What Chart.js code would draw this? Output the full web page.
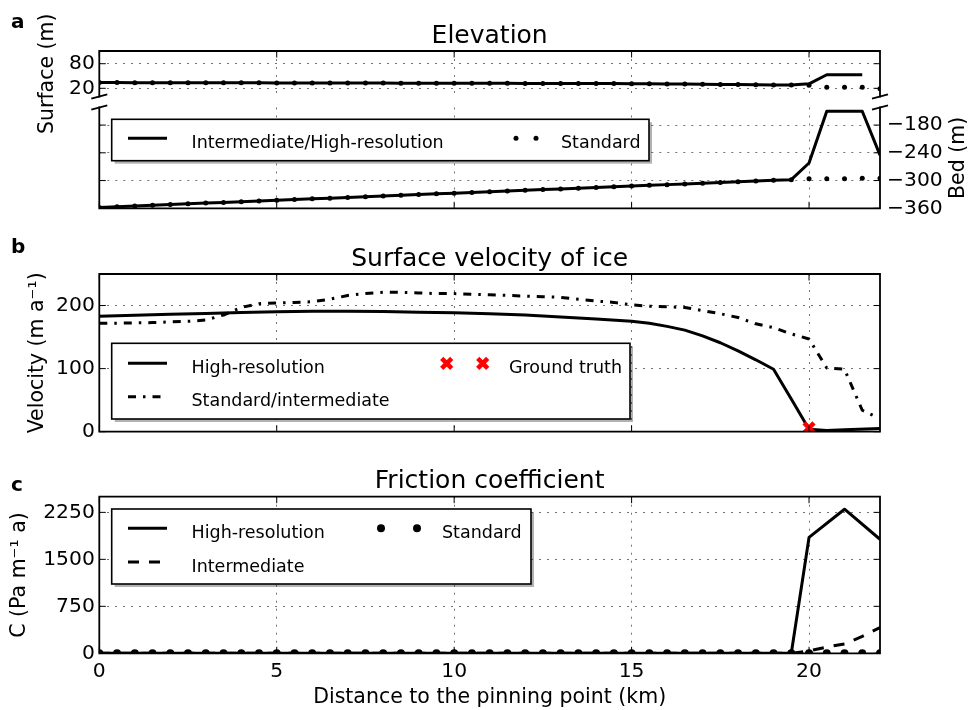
<!DOCTYPE html>
<html>
<head>
<meta charset="utf-8">
<script src="https://cdn.jsdelivr.net/npm/chart.js@4.4.1/dist/chart.umd.min.js"></script>
<style>
html,body{margin:0;padding:0;background:#fff;}
#wrap{position:relative;width:968px;height:710px;overflow:hidden;background:#fff;}
#wrap canvas{position:absolute;left:0;top:0;}
</style>
</head>
<body>
<div id="wrap">
<canvas id="surfChart" width="968" height="710"></canvas>
<canvas id="bedChart" width="968" height="710"></canvas>
<canvas id="velChart" width="968" height="710"></canvas>
<canvas id="fricChart" width="968" height="710"></canvas>
</div>
<script>
// ---- data ----
const xTicks = [0,5,10,15,20];
const surfTicks = [20,80];
const bedTicks = [-360,-300,-240,-180];
const velTicks = [0,100,200];
const fricTicks = [0,750,1500,2250];

// standard grid, 0.5 km spacing
const kmStd = [0,0.5,1,1.5,2,2.5,3,3.5,4,4.5,5,5.5,6,6.5,7,7.5,8,8.5,9,9.5,10,10.5,11,11.5,12,12.5,13,13.5,14,14.5,15,15.5,16,16.5,17,17.5,18,18.5,19,19.5,20,20.5,21,21.5,22];

// a: elevation
const surfStd = [34,33.9,33.8,33.8,33.7,33.6,33.5,33.4,33.3,33.3,33.2,33.1,33,32.9,32.8,32.8,32.7,32.6,32.5,32.4,32.3,32.3,32.2,32.1,32,31.9,31.8,31.7,31.6,31.5,31.3,31,30.6,30.2,29.8,29.4,29,28.6,28.3,28,27.5,22.5,22.5,22.5,19];
const kmSurfHi = [0,0.5,1,1.5,2,2.5,3,3.5,4,4.5,5,5.5,6,6.5,7,7.5,8,8.5,9,9.5,10,10.5,11,11.5,12,12.5,13,13.5,14,14.5,15,15.5,16,16.5,17,17.5,18,18.5,19,19.5,20,20.5,21,21.5];
const surfHi = [34,33.9,33.8,33.8,33.7,33.6,33.5,33.4,33.3,33.3,33.2,33.1,33,32.9,32.8,32.8,32.7,32.6,32.5,32.4,32.3,32.3,32.2,32.1,32,31.9,31.8,31.7,31.6,31.5,31.3,31,30.6,30.2,29.8,29.4,29,28.6,28.3,28,31,53,53,53];
const bedStd = [-358,-356.5,-355,-353.4,-351.8,-350.3,-348.8,-347.2,-345.7,-344.2,-342.6,-341.1,-339.5,-338,-336.5,-334.9,-333.4,-331.8,-330.3,-328.8,-327.2,-325.7,-324.2,-322.6,-321.1,-319.5,-318,-316.5,-314.9,-313.4,-311.8,-310.3,-308.8,-307.2,-305.7,-304.2,-302.6,-301.1,-299.5,-298,-296,-296,-296,-295,-295];
const bedHi = [-358,-356.5,-355,-353.4,-351.8,-350.3,-348.8,-347.2,-345.7,-344.2,-342.6,-341.1,-339.5,-338,-336.5,-334.9,-333.4,-331.8,-330.3,-328.8,-327.2,-325.7,-324.2,-322.6,-321.1,-319.5,-318,-316.5,-314.9,-313.4,-311.8,-310.3,-308.8,-307.2,-305.7,-304.2,-302.6,-301.1,-299.5,-298,-262,-150,-150,-150,-245];

// b: surface velocity
const kmVelHi = [0,1,2,3,4,5,6,7,8,9,10,11,12,13,14,15,15.5,16,16.5,17,17.5,18,18.5,19,19.5,20,20.5,21,22];
const velHi = [183,184.5,186,187.5,189,190,191,191,190.5,189.5,188.5,187,185,182,178.5,175,172,167,161,152,141,128,114,99,52,4,2,3,5];
const kmVelStd = [0,0.5,1,1.5,2,2.5,3,3.5,4,4.5,5,5.5,6,6.5,7,7.5,8,8.5,9,9.5,10,10.5,11,11.5,12,12.5,13,13.5,14,14.5,15,15.5,16,16.5,17,17.5,18,18.5,19,19.5,20,20.5,21,21.5,21.8];
const velStd = [172,172,172.5,173,174,175,177,185,197,203,204,205,206,210,216,219,221,221,220,219,219,218,217,216,215,214,213,210,207,205,201,199,198,197,192,187,181,171,165,155,147,101,99,34,26];
const kmTruth = [20];
const velTruth = [6];

// c: friction coefficient
const kmFricHi = [0,5,10,15,19.5,20,21,22];
const fricHi = [0,0,0,0,0,1850,2300,1820];
const kmFricInt = [0,5,10,15,19.5,20,20.5,21,21.5,22];
const fricInt = [0,0,0,0,0,40,100,150,270,410];
const fricStd = [0,0,0,0,0,0,0,0,0,0,0,0,0,0,0,0,0,0,0,0,0,0,0,0,0,0,0,0,0,0,0,0,0,0,0,0,0,0,0,0,0,0,0,0,0];

// ---- style ----
const FONT = "'DejaVu Sans', 'Bitstream Vera Sans', sans-serif";
Chart.defaults.font.family = FONT;
Chart.defaults.color = '#000';
const GRID = 'rgba(0,0,0,0.55)';
const LEFT_W = 99.3, RIGHT_W = 88, TICK = 6.5, SPINE = 1.8;
const DASHDOT = [8,7,2.5,7], DASHED = [11,10];

const pts = (xs, ys) => xs.map((x,i)=>({x, y:ys[i]}));
const fmt = v => v < 0 ? '\u2212' + Math.abs(v) : String(v);
const fixTicks = list => s => { s.ticks = list.map(v=>({value:v})); };

function xScale(bottom){
  return {
    type:'linear', min:0, max:22, position:'bottom',
    afterBuildTicks: fixTicks(xTicks),
    afterFit: s => { s.height = bottom ? 710 - 653.3 : 0; },
    ticks:{display:bottom, autoSkip:false, maxRotation:0, padding:6.4, font:{size:20.3}, color:'#000', callback:fmt},
    grid:{color:GRID, lineWidth:1, drawTicks:false},
    border:{display:false, dash:[2,6]},
    title:{display:bottom, text:'Distance to the pinning point (km)', font:{size:20.5}, color:'#000', padding:{top:0,bottom:0}}
  };
}
function yScale(min, max, ticks, showLabels, titleText, titlePad, pos, width){
  return {
    type:'linear', min, max, position:pos || 'left',
    afterBuildTicks: fixTicks(ticks),
    afterFit: s => { s.width = width || LEFT_W; },
    ticks:{display:showLabels, autoSkip:false, padding:pos==='right'?7:4.5, font:{size:20.3}, color:'#000', callback:fmt},
    grid:{display:showLabels, color:GRID, lineWidth:1, drawTicks:false},
    border:{display:false, dash:[2,6]},
    title:{display:!!titleText, text:titleText || '', font:{size:20.5}, color:'#000', padding:{top:titlePad||0, bottom:0}}
  };
}

function drawLegend(ctx, lg){
  const [x1,y1,x2,y2] = lg.box;
  ctx.save();
  ctx.fillStyle = 'rgba(0,0,0,0.3)';
  ctx.fillRect(x1+3, y1+3, x2-x1, y2-y1);
  ctx.fillStyle = '#fff';
  ctx.fillRect(x1, y1, x2-x1, y2-y1);
  ctx.strokeStyle = '#000'; ctx.lineWidth = 1.6;
  ctx.strokeRect(x1, y1, x2-x1, y2-y1);
  lg.items.forEach(it=>{
    ctx.save();
    if(it.kind==='line'){
      ctx.strokeStyle='#000'; ctx.lineWidth=3; ctx.lineCap='butt';
      ctx.setLineDash(it.dash || []);
      ctx.beginPath(); ctx.moveTo(128, it.y); ctx.lineTo(167, it.y); ctx.stroke();
    } else if(it.kind==='dots'){
      ctx.fillStyle='#000';
      it.xs.forEach(x=>{ ctx.beginPath(); ctx.arc(x, it.y, it.r, 0, Math.PI*2); ctx.fill(); });
    } else if(it.kind==='cross'){
      ctx.strokeStyle='#ff0000'; ctx.lineWidth=4.5; ctx.lineCap='butt';
      it.xs.forEach(x=>{ const d=5; ctx.beginPath();
        ctx.moveTo(x-d,it.y-d); ctx.lineTo(x+d,it.y+d); ctx.moveTo(x-d,it.y+d); ctx.lineTo(x+d,it.y-d); ctx.stroke(); });
    }
    ctx.restore();
  });
  ctx.fillStyle='#000'; ctx.font = '17.5px ' + FONT; ctx.textAlign='left'; ctx.textBaseline='alphabetic';
  lg.texts.forEach(t=>ctx.fillText(t[0], t[1], t[2]));
  ctx.restore();
}

function overlay(cfg){
  return {
    id:'overlay',
    afterDraw(chart){
      const ctx = chart.ctx, a = chart.chartArea;
      const xs = chart.scales.x, ys = chart.scales[cfg.yId];
      ctx.save();
      // inward ticks
      ctx.strokeStyle='#000'; ctx.lineWidth=1; ctx.beginPath();
      xTicks.forEach(v=>{
        const px = xs.getPixelForValue(v);
        if(cfg.spines.bottom){ ctx.moveTo(px,a.bottom); ctx.lineTo(px,a.bottom-TICK); }
        if(cfg.spines.top){ ctx.moveTo(px,a.top); ctx.lineTo(px,a.top+TICK); }
      });
      cfg.yTicks.forEach(v=>{
        const py = ys.getPixelForValue(v);
        ctx.moveTo(a.left,py); ctx.lineTo(a.left+TICK,py);
        ctx.moveTo(a.right,py); ctx.lineTo(a.right-TICK,py);
      });
      ctx.stroke();
      // spines
      ctx.lineWidth=SPINE; ctx.lineCap='square'; ctx.beginPath();
      ctx.moveTo(a.left,a.top); ctx.lineTo(a.left,a.bottom);
      ctx.moveTo(a.right,a.top); ctx.lineTo(a.right,a.bottom);
      if(cfg.spines.top){ ctx.moveTo(a.left,a.top); ctx.lineTo(a.right,a.top); }
      if(cfg.spines.bottom){ ctx.moveTo(a.left,a.bottom); ctx.lineTo(a.right,a.bottom); }
      ctx.stroke();
      // broken-axis marks
      if(cfg.breakAt){
        const y = cfg.breakAt === 'bottom' ? a.bottom : a.top;
        ctx.lineCap='butt'; ctx.beginPath();
        [a.left, a.right].forEach(x=>{ ctx.moveTo(x-8,y+2.2); ctx.lineTo(x+8,y-2.2); });
        ctx.stroke();
      }
      // texts
      ctx.fillStyle='#000'; ctx.textBaseline='alphabetic';
      if(cfg.letter){ ctx.font='bold 20px '+FONT; ctx.textAlign='left'; ctx.fillText(cfg.letter[0], cfg.letter[1], cfg.letter[2]); }
      if(cfg.title){ ctx.font='25px '+FONT; ctx.textAlign='center'; ctx.fillText(cfg.title[0], (a.left+a.right)/2, cfg.title[1]); }
      if(cfg.rightLabel){
        ctx.save(); ctx.translate(959, (a.top+a.bottom)/2); ctx.rotate(-Math.PI/2);
        ctx.font='20.5px '+FONT; ctx.textAlign='center'; ctx.textBaseline='middle';
        ctx.fillText(cfg.rightLabel, 0, 0); ctx.restore();
      }
      ctx.restore();
      if(cfg.legend) drawLegend(ctx, cfg.legend);
    }
  };
}

function baseOptions(padding, scales){
  return {
    responsive:false, animation:false, devicePixelRatio:1, events:[],
    layout:{padding},
    plugins:{legend:{display:false}, tooltip:{enabled:false}},
    scales
  };
}
const solid = (data, extra) => Object.assign({data, borderColor:'#000', borderWidth:3, pointRadius:0, fill:false, borderJoinStyle:'round', borderCapStyle:'butt', tension:0}, extra||{});
const dots = (data, r, extra) => Object.assign({data, showLine:false, pointRadius:r, pointBackgroundColor:'#000', pointBorderWidth:0, borderColor:'#000'}, extra||{});

// a (top): surface
new Chart(document.getElementById('surfChart'), {
  type:'line',
  data:{datasets:[ dots(pts(kmStd, surfStd), 2.5), solid(pts(kmSurfHi, surfHi)) ]},
  options: baseOptions({top:51, bottom:710-96.5, left:0, right:RIGHT_W}, {
    x: xScale(false),
    y: yScale(0, 111, surfTicks, true, 'Surface (m)', 35.5)
  }),
  plugins:[overlay({yId:'y', yTicks:surfTicks, spines:{top:true, bottom:false}, breakAt:'bottom',
    letter:['a',11,28], title:['Elevation',43],
    legend:null})]
});

// a (bottom): bed
new Chart(document.getElementById('bedChart'), {
  type:'line',
  data:{datasets:[ dots(pts(kmStd, bedStd), 2.5, {yAxisID:'yR'}), solid(pts(kmStd, bedHi), {yAxisID:'yR'}) ]},
  options: baseOptions({top:107.5, bottom:710-208.3, left:0, right:0}, {
    x: xScale(false),
    y: yScale(-360, -142, bedTicks, false, '', 0),
    yR: yScale(-360, -142, bedTicks, true, '', 0, 'right', RIGHT_W)
  }),
  plugins:[overlay({yId:'yR', yTicks:bedTicks, spines:{top:false, bottom:true}, breakAt:'top',
    rightLabel:'Bed (m)',
    legend:{box:[111.7,119.3,649,160.7],
      items:[{kind:'line', y:138.3}, {kind:'dots', xs:[516,536], y:138.3, r:2.5}],
      texts:[['Intermediate/High-resolution',191.5,147.6],['Standard',561,147.6]]}})]
});

// b: velocity
new Chart(document.getElementById('velChart'), {
  type:'line',
  data:{datasets:[
    {data:pts(kmTruth, velTruth), showLine:false, pointStyle:'crossRot', pointRadius:7, pointBorderWidth:4.5, pointBorderColor:'#ff0000', borderColor:'#ff0000'},
    solid(pts(kmVelHi, velHi)),
    solid(pts(kmVelStd, velStd), {borderDash:DASHDOT})
  ]},
  options: baseOptions({top:274, bottom:710-431.7, left:0, right:RIGHT_W}, {
    x: xScale(false),
    y: yScale(0, 250, velTicks, true, 'Velocity (m a\u207B\u00B9)', 25)
  }),
  plugins:[overlay({yId:'y', yTicks:velTicks, spines:{top:true, bottom:true},
    letter:['b',11,253], title:['Surface velocity of ice',265.5],
    legend:{box:[111.7,343.3,630,419],
      items:[{kind:'line', y:363.3}, {kind:'cross', xs:[446.7,482.7], y:363.3}, {kind:'line', y:396.7, dash:DASHDOT}],
      texts:[['High-resolution',191.5,372.6],['Ground truth',509,372.6],['Standard/intermediate',191.5,406]]}})]
});

// c: friction
new Chart(document.getElementById('fricChart'), {
  type:'line',
  data:{datasets:[
    dots(pts(kmStd, fricStd), 4),
    solid(pts(kmFricInt, fricInt), {borderDash:DASHED}),
    solid(pts(kmFricHi, fricHi))
  ]},
  options: baseOptions({top:496.7, bottom:0, left:0, right:RIGHT_W}, {
    x: xScale(true),
    y: yScale(0, 2500, fricTicks, true, 'C (Pa m\u207B\u00B9 a)', 7)
  }),
  plugins:[overlay({yId:'y', yTicks:fricTicks, spines:{top:true, bottom:true},
    letter:['c',11,491], title:['Friction coefficient',488],
    legend:{box:[111.7,509,531,584],
      items:[{kind:'line', y:528.3}, {kind:'dots', xs:[381,417], y:528.3, r:4}, {kind:'line', y:562, dash:DASHED}],
      texts:[['High-resolution',191.5,537.5],['Standard',442,537.5],['Intermediate',191.5,571.5]]}})]
});
</script>
</body>
</html>
